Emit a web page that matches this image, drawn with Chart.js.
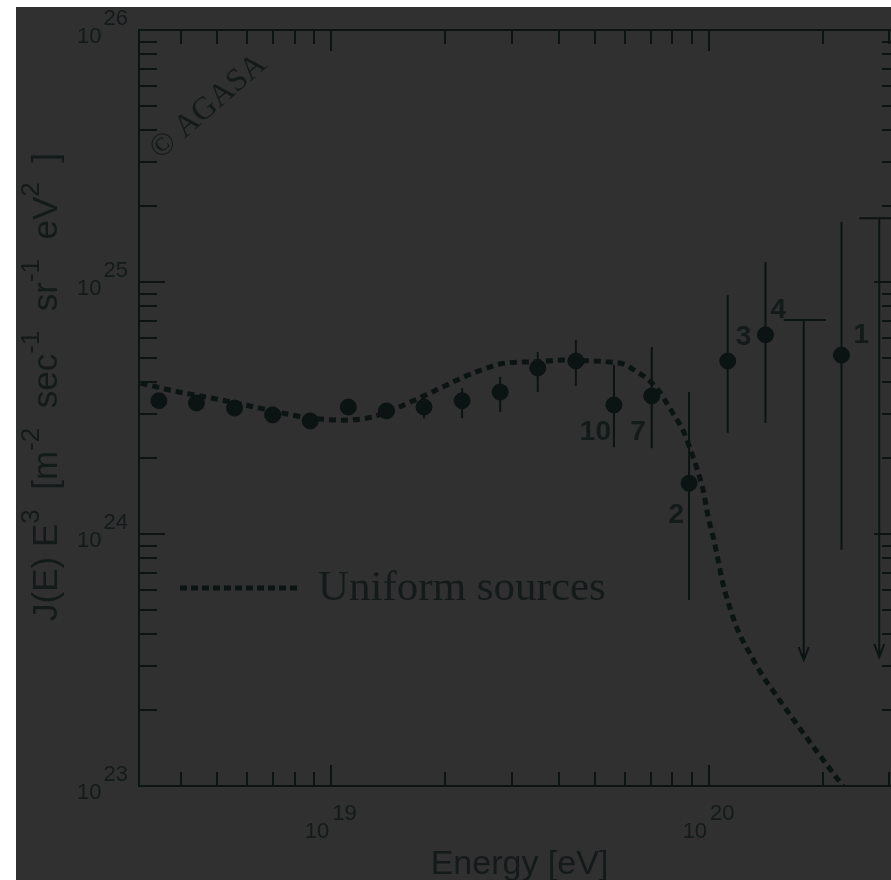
<!DOCTYPE html>
<html>
<head>
<meta charset="utf-8">
<script src="https://cdn.jsdelivr.net/npm/chart.js@4.4.0/dist/chart.umd.min.js"></script>
<style>
  html, body { margin: 0; padding: 0; background: #fff; overflow: hidden; }
  canvas { display: block; }
</style>
</head>
<body>
<canvas id="spectrum" width="910" height="880"></canvas>
<script>
// AGASA spectrum points (E in eV, J(E)E^3)
const energy = [3.50e18, 4.40e18, 5.55e18, 7.00e18, 8.80e18, 1.11e19, 1.40e19, 1.76e19, 2.22e19, 2.80e19,
                3.52e19, 4.44e19, 5.60e19, 7.05e19, 8.85e19, 1.12e20, 1.41e20, 2.24e20];
const flux = [3.38e24, 3.31e24, 3.16e24, 2.97e24, 2.81e24, 3.19e24, 3.08e24, 3.19e24, 3.38e24, 3.66e24,
              4.56e24, 4.86e24, 3.25e24, 3.53e24, 1.59e24, 4.86e24, 6.17e24, 5.13e24];
const fluxLow = [3.25e24, 3.18e24, 3.03e24, 2.84e24, 2.68e24, 3.02e24, 2.90e24, 2.88e24, 2.88e24, 3.05e24,
                 3.66e24, 3.87e24, 2.21e24, 2.19e24, 5.47e23, 2.52e24, 2.76e24, 8.65e23];
const fluxHigh = [3.52e24, 3.45e24, 3.30e24, 3.11e24, 2.95e24, 3.37e24, 3.27e24, 3.56e24, 3.79e24, 4.20e24,
                  5.27e24, 5.89e24, 4.69e24, 5.52e24, 3.66e24, 8.87e24, 1.20e25, 1.73e25];
const eventCounts = ['', '', '', '', '', '', '', '', '', '', '', '', '10', '7', '2', '3', '4', '1'];

// upper limits
const limitEnergy = [1.78e20, 2.82e20];
const limitFlux = [7.06e24, 1.79e25];
const limitArrowTo = [3.16e23, 3.25e23];

// uniform sources model curve
const modelEnergy = [3.13e18, 3.85e18, 4.99e18, 6.46e18, 8.49e18, 1.08e19, 1.28e19, 1.51e19, 1.78e19, 2.07e19,
                     2.45e19, 2.90e19, 3.44e19, 4.13e19, 4.87e19, 5.41e19, 5.92e19, 6.33e19, 6.81e19, 7.33e19,
                     7.93e19, 8.59e19, 9.07e19, 9.36e19, 9.64e19, 9.94e19, 1.03e20, 1.06e20, 1.09e20, 1.14e20,
                     1.20e20, 1.28e20, 1.37e20, 1.49e20, 1.75e20, 1.98e20, 2.26e20, 2.38e20];
const modelFlux = [3.97e24, 3.69e24, 3.43e24, 3.16e24, 2.91e24, 2.83e24, 2.91e24, 3.19e24, 3.56e24, 3.97e24,
                   4.43e24, 4.77e24, 4.82e24, 4.90e24, 4.86e24, 4.82e24, 4.73e24, 4.48e24, 4.16e24, 3.73e24,
                   3.10e24, 2.52e24, 2.02e24, 1.75e24, 1.50e24, 1.17e24, 9.46e23, 7.67e23, 6.28e23, 4.99e23,
                   4.05e23, 3.37e23, 2.81e23, 2.34e23, 1.67e23, 1.30e23, 1.00e23, 9.0e22];

const xDecades = [19, 20];
const yDecades = [23, 24, 25, 26];

const INK = '#0c1313';
const TEXT = '#141a1a';
const BG = '#303030';

function tickValues(scale) {
  const out = [];
  const lo = Math.floor(Math.log10(scale.min)), hi = Math.ceil(Math.log10(scale.max));
  for (let d = lo; d <= hi; d++) {
    for (let k = 1; k <= 9; k++) {
      const v = k * Number('1e' + d);
      if (v >= scale.min * 0.999 && v <= scale.max * 1.001) out.push({ v, major: k === 1 });
    }
  }
  return out;
}

// draws text pieces along the current x direction, superscripts raised
function richText(ctx, parts, x, y, base, sup, raise) {
  let w = 0;
  parts.forEach(p => { ctx.font = p.sup ? sup : base; w += ctx.measureText(p.t).width; });
  let cx = x - w / 2;
  ctx.textAlign = 'left';
  parts.forEach(p => {
    ctx.font = p.sup ? sup : base;
    ctx.fillText(p.t, cx, p.sup ? y - raise : y);
    cx += ctx.measureText(p.t).width;
  });
}

const labelPlace = {
  12: ['right', -3, 35],
  13: ['right', -6, 44],
  14: ['right', -5, 40],
  15: ['left', 8, -16],
  16: ['left', 5, -17],
  17: ['left', 12, -12]
};

const decor = {
  id: 'decor',
  beforeDraw(chart) {
    const ctx = chart.ctx;
    ctx.save();
    ctx.fillStyle = '#ffffff';
    ctx.fillRect(0, 0, chart.width, chart.height);
    ctx.fillStyle = BG;
    ctx.fillRect(16, 7, chart.width - 16, chart.height - 7);
    ctx.restore();
  },
  beforeDatasetsDraw(chart) {
    const { ctx, scales: { x, y }, chartArea: a } = chart;
    ctx.save();
    ctx.beginPath();
    ctx.rect(a.left, a.top, a.right - a.left, a.bottom - a.top);
    ctx.clip();
    ctx.strokeStyle = INK;
    ctx.lineWidth = 2;
    energy.forEach((e, i) => {
      const px = x.getPixelForValue(e);
      ctx.beginPath();
      ctx.moveTo(px, y.getPixelForValue(fluxLow[i]));
      ctx.lineTo(px, y.getPixelForValue(fluxHigh[i]));
      ctx.stroke();
    });
    limitEnergy.forEach((e, i) => {
      const px = x.getPixelForValue(e);
      const top = y.getPixelForValue(limitFlux[i]);
      const bot = y.getPixelForValue(limitArrowTo[i]);
      ctx.beginPath();
      ctx.moveTo(px - 20, top); ctx.lineTo(px + 22, top);
      ctx.moveTo(px, top); ctx.lineTo(px, bot);
      ctx.moveTo(px - 5, bot - 13); ctx.lineTo(px, bot); ctx.lineTo(px + 5, bot - 13);
      ctx.stroke();
    });
    ctx.restore();
  },
  afterDraw(chart) {
    const { ctx, scales: { x, y }, chartArea: a } = chart;
    ctx.save();
    ctx.strokeStyle = INK;
    ctx.lineWidth = 2;
    ctx.strokeRect(a.left, a.top, a.right - a.left, a.bottom - a.top);

    ctx.beginPath();
    tickValues(y).forEach(t => {
      const py = Math.round(y.getPixelForValue(t.v));
      const len = t.major ? 26 : 18;
      ctx.moveTo(a.left, py); ctx.lineTo(a.left + len, py);
      ctx.moveTo(a.right, py); ctx.lineTo(a.right - len, py);
    });
    tickValues(x).forEach(t => {
      const px = Math.round(x.getPixelForValue(t.v));
      const len = t.major ? 21 : 14;
      ctx.moveTo(px, a.bottom); ctx.lineTo(px, a.bottom - len);
      ctx.moveTo(px, a.top); ctx.lineTo(px, a.top + len);
    });
    ctx.stroke();

    // tick labels
    ctx.fillStyle = TEXT;
    ctx.font = '22px "Liberation Sans", Arial, sans-serif';
    ctx.textBaseline = 'alphabetic';
    yDecades.forEach(d => {
      const py = y.getPixelForValue(Number('1e' + d));
      ctx.textAlign = 'right';
      ctx.fillText(String(d), a.left - 11, py - 5);
      const w = ctx.measureText(String(d)).width;
      ctx.fillText('10', a.left - 13 - w, py + 13);
    });
    xDecades.forEach(d => {
      const px = x.getPixelForValue(Number('1e' + d));
      ctx.textAlign = 'right';
      ctx.fillText('10', px - 2, 838);
      ctx.textAlign = 'left';
      ctx.fillText(String(d), px + 1, 820);
    });

    // axis titles
    ctx.textAlign = 'center';
    ctx.font = '34px "Liberation Sans", Arial, sans-serif';
    ctx.fillText('Energy [eV]', (a.left + a.right) / 2, 874);

    ctx.save();
    ctx.translate(57, 387);
    ctx.rotate(-Math.PI / 2);
    richText(ctx, [
      { t: 'J(E) E' }, { t: '3', sup: true },
      { t: '  [m' }, { t: '-2', sup: true },
      { t: '  sec' }, { t: '-1', sup: true },
      { t: '  sr' }, { t: '-1', sup: true },
      { t: '  eV' }, { t: '2', sup: true },
      { t: '  ]' }
    ], 0, 0, '35px "Liberation Sans", Arial, sans-serif', '26px "Liberation Sans", Arial, sans-serif', 18);
    ctx.restore();

    // event counts
    ctx.font = 'bold 28px "Liberation Sans", Arial, sans-serif';
    eventCounts.forEach((c, i) => {
      if (!c) return;
      const [align, dx, dy] = labelPlace[i];
      ctx.textAlign = align;
      ctx.fillText(c, x.getPixelForValue(energy[i]) + dx, y.getPixelForValue(flux[i]) + dy);
    });

    // legend
    ctx.strokeStyle = INK;
    ctx.lineWidth = 5;
    ctx.setLineDash([7, 4]);
    ctx.beginPath();
    ctx.moveTo(180, 588); ctx.lineTo(298, 588);
    ctx.stroke();
    ctx.setLineDash([]);
    ctx.textAlign = 'left';
    ctx.font = '43px "Liberation Serif", "Times New Roman", serif';
    ctx.fillText(chart.data.datasets[0].label, 318, 600);

    // watermark
    ctx.save();
    ctx.translate(160, 160);
    ctx.rotate(-41 * Math.PI / 180);
    ctx.font = '32px "Liberation Serif", "Times New Roman", serif';
    ctx.fillText('\u00A9 AGASA', 0, 0);
    ctx.restore();

    ctx.restore();
  }
};

new Chart(document.getElementById('spectrum'), {
  type: 'scatter',
  data: {
    datasets: [
      {
        label: 'Uniform sources',
        type: 'line',
        data: modelEnergy.map((e, i) => ({ x: e, y: modelFlux[i] })),
        borderColor: INK,
        borderWidth: 5,
        borderDash: [7, 5],
        pointRadius: 0,
        showLine: true,
        fill: false,
        cubicInterpolationMode: 'monotone'
      },
      {
        label: 'AGASA',
        data: energy.map((e, i) => ({ x: e, y: flux[i] })),
        backgroundColor: INK,
        borderColor: INK,
        pointRadius: 8,
        pointHoverRadius: 8
      }
    ]
  },
  options: {
    responsive: false,
    animation: false,
    devicePixelRatio: 1,
    layout: { padding: { left: 139, top: 30, right: 10, bottom: 94 } },
    scales: {
      x: { type: 'logarithmic', min: 3.1e18, max: 3.2e20, display: false },
      y: { type: 'logarithmic', min: 1e23, max: 1e26, display: false }
    },
    plugins: {
      legend: { display: false },
      tooltip: { enabled: false }
    }
  },
  plugins: [decor]
});
</script>
</body>
</html>
